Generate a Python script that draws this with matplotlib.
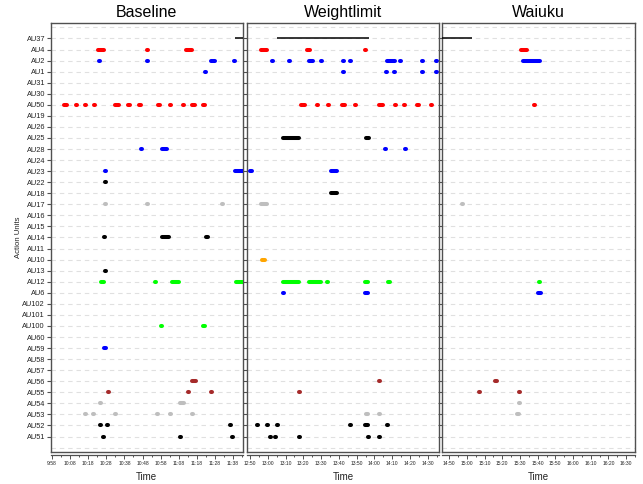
import matplotlib
matplotlib.use('Agg')
import matplotlib.pyplot as plt

plt.rcParams['font.family'] = ['Liberation Sans', 'DejaVu Sans']

# y-axis categories, top to bottom
au_labels = ['AU37', 'AU4', 'AU2', 'AU1', 'AU31', 'AU30', 'AU50', 'AU19', 'AU26', 'AU25',
             'AU28', 'AU24', 'AU23', 'AU22', 'AU18', 'AU17', 'AU16', 'AU15', 'AU14', 'AU11',
             'AU10', 'AU13', 'AU12', 'AU6', 'AU102', 'AU101', 'AU100', 'AU60', 'AU59', 'AU58',
             'AU57', 'AU56', 'AU55', 'AU54', 'AU53', 'AU52', 'AU51']

panel_titles = ['Baseline', 'Weightlimit', 'Waiuku']

# first labelled tick of each panel (minutes after midnight), ticks every 10 min
tick_start = [598, 770, 890]

# events per panel: AU -> list of (start, end) in minutes after midnight
baseline = {
    'AU37': [(699.0, 706.0)],
    'AU4': [(623.5, 626.5), (650.6, 651.3), (654.7, 655.0), (671.8, 675.2), (698.9, 699.2)],
    'AU2': [(624.0, 624.3), (627.7, 628.0), (650.6, 651.3), (669.0, 669.3), (679.7, 680.0),
            (686.1, 687.8), (698.8, 699.1)],
    'AU1': [(599.6, 599.9), (679.7, 680.0), (682.6, 682.9)],
    'AU50': [(604.7, 606.2), (611.0, 611.7), (616.1, 616.7), (621.1, 621.9), (632.7, 634.8),
             (640.1, 641.2), (645.9, 647.1), (656.6, 657.8), (663.1, 663.7), (670.1, 670.7),
             (675.6, 677.1), (681.5, 682.7)],
    'AU28': [(647.4, 647.7), (658.5, 661.5)],
    'AU23': [(627.4, 627.7), (699.0, 706.0)],
    'AU22': [(627.4, 627.7)],
    'AU17': [(627.2, 627.9), (650.6, 651.3), (691.9, 692.7)],
    'AU14': [(626.8, 627.1), (658.5, 662.4), (682.8, 684.1)],
    'AU13': [(627.4, 627.7)],
    'AU12': [(624.9, 626.5), (655.0, 655.6), (664.5, 667.9), (699.4, 706.0)],
    'AU100': [(658.4, 658.8), (681.5, 682.7)],
    'AU59': [(626.6, 628.0)],
    'AU56': [(675.4, 677.5)],
    'AU55': [(629.2, 629.5), (635.9, 636.2), (673.2, 673.5), (686.1, 686.4)],
    'AU54': [(616.7, 617.0), (621.7, 622.0), (624.8, 625.1), (668.6, 670.7)],
    'AU53': [(611.0, 611.3), (616.3, 616.6), (620.9, 621.2), (632.9, 633.2), (656.1, 656.4),
             (663.1, 663.7), (670.1, 670.4), (675.4, 675.7)],
    'AU52': [(624.8, 625.1), (628.5, 628.8), (689.0, 689.4), (696.3, 696.7)],
    'AU51': [(626.4, 626.7), (668.5, 669.0), (697.7, 698.0)],
}

weightlimit = {
    'AU37': [(785.0, 837.0)],
    'AU4': [(776.4, 779.5), (802.1, 803.9), (825.0, 825.3), (834.7, 835.0)],
    'AU2': [(782.4, 782.7), (792.2, 792.5), (803.2, 805.7), (810.2, 810.5), (822.3, 822.6),
            (826.3, 826.6), (847.0, 851.5), (854.5, 854.8), (866.9, 867.2), (874.8, 875.1)],
    'AU1': [(822.3, 822.6), (846.5, 846.8), (850.8, 851.7), (866.9, 867.2), (874.8, 875.1)],
    'AU50': [(769.2, 769.7), (798.5, 801.1), (807.9, 808.5), (813.9, 814.7), (821.8, 823.5),
             (828.8, 829.7), (842.5, 844.7), (851.3, 852.2), (856.4, 857.2), (863.9, 865.3),
             (871.9, 872.2)],
    'AU26': [(845.2, 845.5)],
    'AU25': [(788.6, 797.7), (835.0, 837.0)],
    'AU28': [(846.1, 846.6), (857.4, 857.7)],
    'AU24': [(847.4, 847.7)],
    'AU23': [(770.2, 771.4), (815.8, 819.2)],
    'AU18': [(815.8, 819.2)],
    'AU17': [(776.4, 779.5)],
    'AU10': [(776.8, 778.6)],
    'AU12': [(788.6, 797.7), (803.2, 809.8), (813.3, 813.8), (834.5, 836.1), (847.6, 848.8)],
    'AU6': [(788.6, 788.9), (834.8, 836.6)],
    'AU56': [(842.6, 842.9)],
    'AU55': [(797.6, 797.9), (862.6, 862.9)],
    'AU54': [(837.3, 837.6), (849.1, 849.4)],
    'AU53': [(835.0, 836.6), (842.6, 842.9)],
    'AU52': [(774.0, 774.3), (779.6, 779.9), (785.2, 785.5), (826.5, 826.8), (834.8, 836.5),
             (839.7, 840.0), (847.3, 847.6)],
    'AU51': [(781.5, 781.8), (784.3, 784.6), (789.6, 789.9), (797.6, 797.9), (803.6, 803.9),
             (807.5, 807.8), (836.6, 836.9), (842.6, 842.9), (851.4, 851.7)],
}

waiuku = {
    'AU37': [(880.0, 903.0)],
    'AU4': [(930.5, 934.0)],
    'AU2': [(931.6, 941.4)],
    'AU50': [(937.8, 938.4)],
    'AU17': [(897.5, 897.8)],
    'AU12': [(940.6, 941.2)],
    'AU6': [(940.3, 941.6)],
    'AU56': [(916.0, 917.2)],
    'AU55': [(906.9, 907.2), (920.3, 920.6), (929.7, 930.0)],
    'AU54': [(929.7, 930.0)],
    'AU53': [(928.5, 929.5)],
}

panel_data = [baseline, weightlimit, waiuku]

# ---- styles ----
au_colors = {
    'AU37': 'black', 'AU4': '#FF0000', 'AU2': '#0000FF', 'AU1': '#0000FF', 'AU50': '#FF0000',
    'AU26': '#BEBEBE', 'AU25': 'black', 'AU28': '#0000FF', 'AU24': '#0000FF', 'AU23': '#0000FF',
    'AU22': 'black', 'AU18': 'black', 'AU17': '#BEBEBE', 'AU14': 'black', 'AU13': 'black',
    'AU10': '#FFA500', 'AU12': '#00FF00', 'AU6': '#0000FF', 'AU100': '#00FF00',
    'AU59': '#0000FF', 'AU56': '#A52A2A', 'AU55': '#A52A2A', 'AU54': '#BEBEBE',
    'AU53': '#BEBEBE', 'AU52': 'black', 'AU51': 'black',
}
thin_aus = {'AU37'}

W, H = 643, 484
fig = plt.figure(figsize=(W / 100, H / 100), dpi=100)

px_left = [50.7, 247.3, 442.3]
px_right = [243.0, 439.0, 635.0]
px_top, px_bottom = 23.0, 452.0
xlims = [(597.3, 703.5), (768.5, 876.3), (886.1, 992.8)]

n = len(au_labels)
ypos = {au: n - i for i, au in enumerate(au_labels)}
frame_col = '#505050'

for k in range(3):
    l, r = px_left[k], px_right[k]
    ax = fig.add_axes([l / W, 1 - px_bottom / H, (r - l) / W, (px_bottom - px_top) / H])
    ax.set_xlim(*xlims[k])
    ax.set_ylim(-0.4, n + 1.4)
    for y in range(0, n + 2):
        ax.axhline(y, color='#E0E0E0', lw=0.8, ls=(0, (4, 3.5)), zorder=0)
    for au, segs in panel_data[k].items():
        y = ypos[au]
        lw = 1.1 if au in thin_aus else 2.9
        for s, e in segs:
            ax.plot([s, e], [y, y], color=au_colors[au], lw=lw,
                    solid_capstyle='round' if au not in thin_aus else 'butt', zorder=3)

    # frame
    for side in ['left', 'right', 'top']:
        ax.spines[side].set_color(frame_col)
        ax.spines[side].set_linewidth(1.0)
    ax.plot([0, 1], [0, 0], transform=ax.transAxes, color=frame_col, lw=1.0,
            clip_on=False, zorder=5)
    ax.spines['bottom'].set_position(('outward', 2.3))
    ax.spines['bottom'].set_color(frame_col)
    ax.spines['bottom'].set_linewidth(0.9)

    # y axis
    ax.set_yticks([ypos[a] for a in au_labels])
    if k == 0:
        ax.set_yticklabels(au_labels, fontsize=5.3, color='#222222')
    else:
        ax.set_yticklabels([])
    ax.tick_params(axis='y', length=2.6, width=0.8, color=frame_col, pad=1.5)

    # x axis
    t0 = tick_start[k]
    majors = [t0 + 10 * i for i in range(11)]
    minors = [t0 + 5 + 10 * i for i in range(11)]
    ax.set_xticks(majors)
    ax.set_xticks(minors, minor=True)
    ax.set_xticklabels([f"{m // 60}:{m % 60:02d}" for m in majors], fontsize=3.6,
                       color='#222222')
    ax.tick_params(axis='x', which='major', length=3.0, width=0.7, color=frame_col, pad=1.2)
    ax.tick_params(axis='x', which='minor', length=1.6, width=0.7, color=frame_col)
    ax.set_xlabel('Time', fontsize=7, labelpad=4, color='#222222')
    ax.set_title(panel_titles[k], fontsize=11.5, pad=4, color='black')

fig.text(18 / W, 1 - 237.5 / H, 'Action Units', rotation=90, fontsize=5.6,
         ha='center', va='center', color='#222222')

fig.savefig('out.png', dpi=100)
